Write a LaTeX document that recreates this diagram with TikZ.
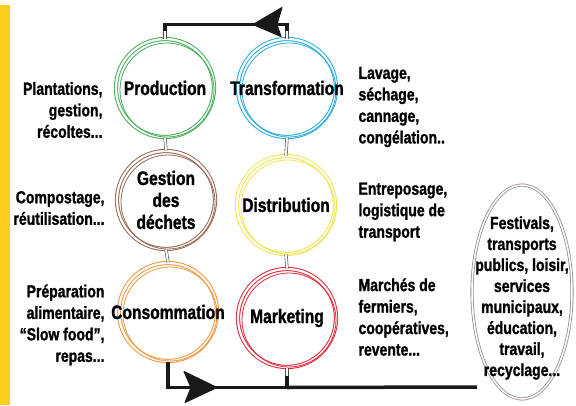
\documentclass[tikz,border=0pt]{standalone}
\usepackage{fontspec}
\setmainfont[FakeStretch=0.8, BoldFeatures={FakeBold=1.2}]{Liberation Sans}
\usepackage{tikz}
\usetikzlibrary{shapes.geometric, positioning}

\definecolor{prodgreen}{RGB}{70,175,90}
\definecolor{transblue}{RGB}{40,170,220}
\definecolor{gestbrown}{RGB}{150,105,85}
\definecolor{distyellow}{RGB}{240,228,80}
\definecolor{consorange}{RGB}{240,150,60}
\definecolor{markred}{RGB}{225,40,55}
\definecolor{sidebar}{RGB}{250,205,30}
\definecolor{ellgray}{RGB}{150,140,140}

\begin{document}
\begin{tikzpicture}[x=1pt, y=-1pt,
    stage/.style={circle, draw=#1, double=white, double distance=2.2pt, line width=1pt, minimum size=98pt, inner sep=0pt},
    title/.style={font=\bfseries\fontsize{19.5}{22}\selectfont, align=center},
    lside/.style={anchor=east, align=right, font=\bfseries\fontsize{17.5}{21.5}\selectfont},
    rside/.style={anchor=west, align=left, font=\bfseries\fontsize{17.5}{21.5}\selectfont},
    link/.style={draw=black!70, double=white, double distance=2pt, line width=0.6pt},
    flow/.style={line width=3.5pt, black!90},
    head/.style={fill=black!90, draw=black!90, line width=1pt, line join=round}
]
    \useasboundingbox (0,0) rectangle (576,405);
    \fill[sidebar] (0,5) rectangle (10,405);

    % Cycle stages
    \node[stage=prodgreen] (prod) at (165,88) {};
    \node[stage=transblue] (trans) at (287,88) {};
    \node[stage=gestbrown] (gest) at (166,200) {};
    \node[stage=distyellow] (dist) at (286,205) {};
    \node[stage=consorange] (cons) at (168,312) {};
    \node[stage=markred] (mark) at (287,318) {};
    \foreach \n/\c in {prod/prodgreen, trans/transblue, gest/gestbrown, dist/distyellow, cons/consorange, mark/markred}
        \draw[\c, line width=0.8pt] ([shift={(2,2)}]\n.center) circle (47pt);

    % Stage titles
    \node[title] (prodtxt) at (prod) {Production};
    \node[title] (transtxt) at (trans) {Transformation};
    \node[title] (gesttxt) at (gest) {Gestion\\des\\déchets};
    \node[title] (disttxt) at (dist) {Distribution};
    \node[title] (constxt) at (cons) {Consommation};
    \node[title] (marktxt) at (mark) {Marketing};

    % Side notes
    \node[lside] (prodnote) at (106,110) {Plantations,\\gestion,\\récoltes...};
    \node[rside] (transnote) at (355,107) {Lavage,\\séchage,\\cannage,\\congélation..};
    \node[lside] (gestnote) at (108,208) {Compostage,\\réutilisation...};
    \node[rside] (distnote) at (355,212) {Entreposage,\\logistique de\\transport};
    \node[lside] (consnote) at (108,325) {Préparation\\alimentaire,\\“Slow food”,\\repas...};
    \node[rside] (marknote) at (355,317) {Marchés de\\fermiers,\\coopératives,\\revente...};

    % Other sectors
    \node[ellipse, draw=ellgray, double=white, double distance=1.5pt, line width=0.8pt, minimum width=100pt, minimum height=214pt] (others) at (522,292) {};
    \node[title, font=\bfseries\fontsize{17.5}{21}\selectfont] (otherstxt) at (522,298) {Festivals,\\transports\\publics, loisir,\\services\\municipaux,\\éducation,\\travail,\\recyclage...};

    % Links
    \draw[link] (prod.south) -- (gest.north);
    \draw[link] (gest.south) -- (cons.north);
    \draw[link] (trans.south) -- (dist.north);
    \draw[link] (dist.south) -- (mark.north);
    \draw[link] (prod.north) -- ++(0,-8) coordinate (ptop);
    \draw[link] (trans.north) -- ++(0,-8) coordinate (ttop);
    \draw[link] (mark.south) -- ++(0,8) coordinate (mlow);

    % Arrows
    \draw[flow] (ttop) -- ++(0,-6) coordinate (tcorner) -| (ptop);
    \path (tcorner) ++(-34,0) coordinate (ttip);
    \fill[head] (ttip) -- ++(29,-17) -- ++(-5,17) -- ++(4,12) -- cycle;
    \draw[flow] (cons.south) -- ++(0,26) coordinate (ccorner) -| coordinate[pos=0.5] (mcorner) (mlow);
    \path (ccorner) ++(49,0) coordinate (ctip);
    \fill[head] (ctip) -- ++(-33,-16) -- ++(7,16) -- ++(-6,15) -- cycle;
    \coordinate (ellend) at (477,387);
    \draw[flow] (mcorner) -- (ellend);
\end{tikzpicture}
\end{document}
